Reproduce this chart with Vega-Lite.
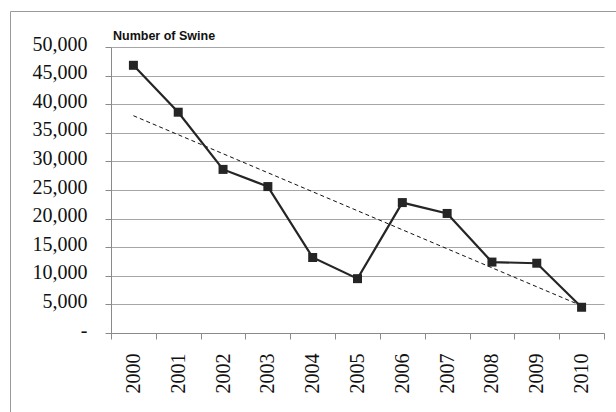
{
  "$schema": "https://vega.github.io/schema/vega-lite/v6.json",
  "autosize": {"type": "none"},
  "padding": {"left": 10, "top": 11, "right": 0, "bottom": 0},
  "width": 606,
  "height": 401,
  "background": "white",
  "config": {
    "view": {"stroke": "#9a9a9a", "strokeWidth": 1},
    "axis": {
      "labelFont": "Liberation Serif",
      "labelFontSize": 20,
      "labelColor": "#111111",
      "domainColor": "#8a8a8a",
      "tickColor": "#8a8a8a",
      "gridColor": "#a6a6a6",
      "tickSize": 6,
      "title": null
    }
  },
  "title": {
    "text": "Number of Swine",
    "anchor": "start",
    "font": "Liberation Sans",
    "fontSize": 12.5,
    "fontWeight": "bold",
    "color": "#111111",
    "baseline": "alphabetic",
    "offset": 0,
    "dx": 113,
    "dy": 41
  },
  "data": {
    "values": [
      {"year": 2000, "swine": 46800},
      {"year": 2001, "swine": 38600},
      {"year": 2002, "swine": 28600},
      {"year": 2003, "swine": 25600},
      {"year": 2004, "swine": 13200},
      {"year": 2005, "swine": 9500},
      {"year": 2006, "swine": 22800},
      {"year": 2007, "swine": 20900},
      {"year": 2008, "swine": 12400},
      {"year": 2009, "swine": 12200},
      {"year": 2010, "swine": 4500}
    ]
  },
  "encoding": {
    "x": {
      "field": "year",
      "type": "ordinal",
      "scale": {"range": [101, 594], "paddingInner": 0, "paddingOuter": 0},
      "axis": {
        "orient": "bottom",
        "offset": -79,
        "labelAngle": -90,
        "labelPadding": 14,
        "tickBand": "extent",
        "grid": false
      }
    },
    "y": {
      "field": "swine",
      "type": "quantitative",
      "scale": {"domain": [0, 50000], "range": [322, 36], "nice": false},
      "axis": {
        "orient": "left",
        "offset": -101,
        "values": [0, 5000, 10000, 15000, 20000, 25000, 30000, 35000, 40000, 45000, 50000],
        "labelExpr": "datum.value == 0 ? '-\u00a0\u00a0\u00a0' : format(datum.value, ',')",
        "labelPadding": 18,
        "labelOffset": -3,
        "grid": true
      }
    }
  },
  "layer": [
    {
      "transform": [{"regression": "swine", "on": "year", "method": "linear"}],
      "mark": {"type": "line", "color": "#111111", "strokeWidth": 1, "strokeDash": [4, 3]}
    },
    {
      "mark": {
        "type": "line",
        "color": "#252525",
        "strokeWidth": 2.2,
        "point": {"shape": "square", "size": 81, "filled": true, "color": "#252525", "opacity": 1}
      }
    }
  ]
}
